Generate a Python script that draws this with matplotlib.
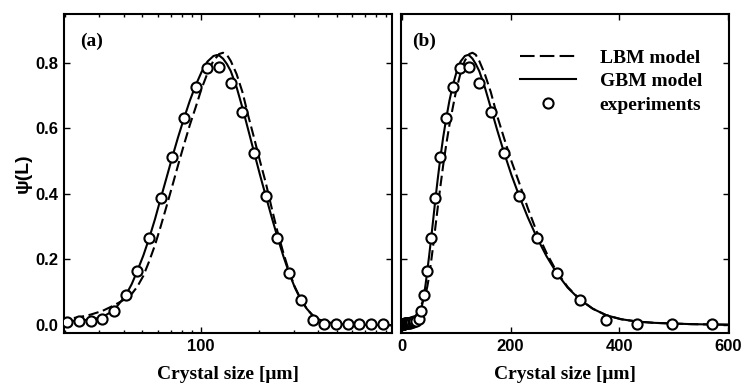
import numpy as np
import matplotlib
matplotlib.use('Agg')
import matplotlib.pyplot as plt
from matplotlib.lines import Line2D
from matplotlib.ticker import FixedLocator, NullFormatter

# experimental points (crystal size in um, psi(L))
exp_L = [1.9, 2.2, 2.5, 2.9, 3.3, 3.8, 4.4, 5.1, 5.8, 6.7, 7.7, 8.9, 10.2, 11.7, 13.5, 15.5, 17.8,
         20.5, 23.5, 27.0, 31.0, 35.6, 40.9, 47.0, 54.0, 62.0, 71.2, 81.8, 94.0, 108.0, 124.0,
         142.5, 163.7, 188.0, 216.0, 248.0, 285.0, 327.0, 376.0, 432.0, 496.0, 570.0, 655.0, 752.0, 864.0]
exp_psi = [0.002, 0.002, 0.003, 0.003, 0.003, 0.004, 0.004, 0.004, 0.005, 0.005, 0.006, 0.006, 0.007, 0.007, 0.008, 0.008, 0.009,
           0.010, 0.013, 0.013, 0.018, 0.044, 0.091, 0.166, 0.265, 0.386, 0.513, 0.632, 0.727, 0.783, 0.788,
           0.739, 0.648, 0.526, 0.393, 0.265, 0.158, 0.076, 0.017, 0.003, 0.003, 0.003, 0.003, 0.003, 0.003]

# model curves
curve_L = [0, 5, 10, 15, 20.5, 23.5, 27, 31, 35.6, 40.9, 44, 47, 50.5, 54, 58, 62, 66.5, 71.2, 76.3, 81.8,
           87.7, 94, 100.7, 108, 116, 121, 124, 130, 136, 142.5, 152.7, 163.7, 175.5, 188, 201.5, 216,
           231.5, 248, 266, 285, 305, 327, 351, 376, 403, 432, 463, 496, 532, 570, 610, 700, 864, 1000]
gbm = [0, 0.003, 0.006, 0.009, 0.012, 0.014, 0.017, 0.024, 0.045, 0.090, 0.125, 0.165, 0.212, 0.263, 0.323, 0.385,
       0.449, 0.512, 0.573, 0.630, 0.684, 0.731, 0.771, 0.803, 0.820, 0.823, 0.822, 0.812, 0.796, 0.774, 0.725,
       0.662, 0.594, 0.526, 0.458, 0.393, 0.329, 0.268, 0.210, 0.158, 0.114, 0.078, 0.050, 0.030, 0.018, 0.011,
       0.007, 0.005, 0.003, 0.002, 0.001, 0.0005, 0, 0]
lbm = [0, 0.004, 0.008, 0.013, 0.019, 0.024, 0.032, 0.043, 0.060, 0.080, 0.095, 0.117, 0.150, 0.193, 0.244, 0.300,
       0.362, 0.424, 0.488, 0.550, 0.610, 0.664, 0.720, 0.767, 0.806, 0.818, 0.826, 0.830, 0.824, 0.805, 0.765,
       0.710, 0.637, 0.570, 0.500, 0.433, 0.357, 0.285, 0.220, 0.162, 0.116, 0.079, 0.050, 0.030, 0.018, 0.011,
       0.007, 0.005, 0.003, 0.002, 0.001, 0.0005, 0, 0]

yticks = [0.0, 0.2, 0.4, 0.6, 0.8]
xticks_b = [0, 200, 400, 600]

serif = {'family': 'Liberation Serif', 'weight': 'bold', 'size': 14}
tick_fs = 12

fig = plt.figure(figsize=(7.43, 3.86), dpi=100)
axa = fig.add_axes([0.0861, 0.1373, 0.4415, 0.8264])
axb = fig.add_axes([0.5393, 0.1373, 0.4423, 0.8264])

cL = np.array(curve_L)
pos = cL > 0
for ax, m in [(axa, pos), (axb, np.ones_like(pos))]:
    ax.plot(cL[m], np.array(lbm)[m], color='black', lw=1.5, dashes=(5, 2.2), zorder=2)
    ax.plot(cL[m], np.array(gbm)[m], color='black', lw=1.5, zorder=2)
    ax.plot(exp_L, exp_psi, 'o', ms=7.3, mfc='white', mec='black', mew=1.5, zorder=3)
    ax.set_ylim(-0.024, 0.948)
    ax.set_yticks(yticks)
    for s in ax.spines.values():
        s.set_linewidth(1.5)
    ax.tick_params(which='both', direction='in', top=True, right=True, width=1.0)
    ax.tick_params(which='major', length=4)
    ax.tick_params(which='minor', length=2.5)
    ax.set_xlabel('Crystal size [μm]', fontdict=serif, labelpad=9)

axa.set_xscale('log')
axa.set_xlim(19.7, 965)
axa.xaxis.set_major_locator(FixedLocator([100]))
axa.set_xticklabels(['100'])
axa.xaxis.set_minor_locator(FixedLocator([20, 30, 40, 50, 60, 70, 80, 90, 200, 300, 400, 500, 600, 700, 800, 900]))
axa.xaxis.set_minor_formatter(NullFormatter())
axa.set_yticklabels(['%.1f' % v for v in yticks])
axa.set_ylabel('ψ(L)', fontdict={'family': 'Liberation Sans', 'weight': 'bold', 'size': 14}, labelpad=3)
axa.text(0.05, 0.9, '(a)', transform=axa.transAxes, fontdict=serif)

axb.set_xlim(-1.8, 601.8)
axb.set_xticks(xticks_b)
axb.set_xticklabels([str(v) for v in xticks_b])
axb.set_yticklabels([])
axb.text(0.035, 0.9, '(b)', transform=axb.transAxes, fontdict=serif)

for ax in (axa, axb):
    for lab in ax.get_xticklabels() + ax.get_yticklabels():
        lab.set_fontfamily('Liberation Sans')
        lab.set_fontweight('bold')
        lab.set_fontsize(tick_fs)
    ax.tick_params(axis='y', pad=4)
    ax.tick_params(axis='x', pad=4)

handles = [Line2D([], [], color='black', lw=1.5, dashes=(7, 2.5)),
           Line2D([], [], color='black', lw=1.5),
           Line2D([], [], ls='none', marker='o', ms=7.3, mfc='white', mec='black', mew=1.5)]
axb.legend(handles, ['LBM model', 'GBM model', 'experiments'], loc='upper left',
           bbox_to_anchor=(0.363, 0.89), frameon=False, prop=serif, borderpad=0,
           handlelength=2.9, handletextpad=1.2, labelspacing=0.3, borderaxespad=0)

fig.savefig('out.png', dpi=100)
